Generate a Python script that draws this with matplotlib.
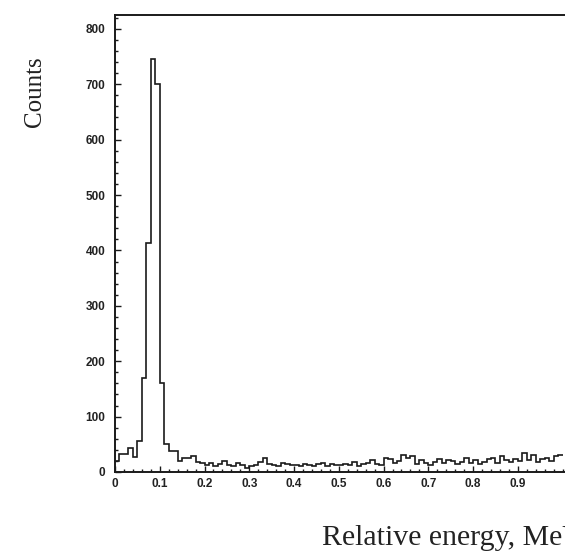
import numpy as np
import matplotlib
matplotlib.use("Agg")
import matplotlib.pyplot as plt
from matplotlib.ticker import MultipleLocator

# histogram contents, 100 bins of 0.01 MeV between 0 and 1
counts = [20, 33, 33, 44, 27, 56, 170, 413, 745, 700,
          160, 50, 38, 38, 20, 25, 25, 29, 18, 16,
          12, 16, 10, 14, 20, 12, 10, 17, 13, 8,
          10, 12, 18, 25, 14, 12, 10, 16, 14, 12,
          13, 10, 14, 12, 10, 14, 16, 10, 14, 12,
          12, 15, 13, 18, 10, 15, 17, 22, 14, 12,
          25, 24, 16, 20, 30, 26, 28, 14, 22, 16,
          12, 18, 24, 17, 22, 20, 14, 18, 26, 16,
          22, 14, 18, 24, 26, 16, 28, 22, 18, 24,
          20, 34, 22, 30, 18, 24, 26, 20, 28, 30]
bin_lo = 0.0
bin_hi = 1.0
x_ticks = [0, 0.1, 0.2, 0.3, 0.4, 0.5, 0.6, 0.7, 0.8, 0.9]
x_tick_labels = ["0", "0.1", "0.2", "0.3", "0.4", "0.5", "0.6", "0.7", "0.8", "0.9"]
y_ticks = [0, 100, 200, 300, 400, 500, 600, 700, 800]

edges = np.linspace(bin_lo, bin_hi, len(counts) + 1)

fig = plt.figure(figsize=(5.65, 5.55), dpi=100)
# the original scan is cut on the right, so the axes run past the figure edge
ax = fig.add_axes([115 / 565, 83 / 555, 470 / 565, 457 / 555])

ax.stairs(counts, edges, color="#1a1a1a", linewidth=1.2, baseline=None)

ax.set_xlim(0, 1.05)
ax.set_ylim(0, 825)

ax.set_xticks(x_ticks)
ax.set_xticklabels(x_tick_labels)
ax.set_yticks(y_ticks)
ax.xaxis.set_minor_locator(MultipleLocator(0.02))
ax.yaxis.set_minor_locator(MultipleLocator(20))

ax.tick_params(which="both", direction="in", top=False, right=False,
               color="#1a1a1a", width=1.0)
ax.tick_params(which="major", length=4)
ax.tick_params(which="minor", length=2.5)
ax.tick_params(axis="y", which="major", pad=7)
ax.tick_params(axis="x", which="major", pad=4)

for lab in ax.get_xticklabels() + ax.get_yticklabels():
    lab.set_fontfamily("Liberation Sans")
    lab.set_fontweight("bold")
    lab.set_fontsize(8.5)
    lab.set_color("#222222")

for side in ["left", "bottom", "top", "right"]:
    ax.spines[side].set_linewidth(1.4)
    ax.spines[side].set_color("#1a1a1a")

# axis titles placed like in the scan
fig.text(35 / 565, 1 - 92 / 555, "Counts", rotation=90, ha="center", va="center",
         fontfamily="Liberation Serif", fontsize=18, color="#222222")
fig.text(322 / 565, 1 - 538 / 555, "Relative energy, MeV", ha="left", va="center",
         fontfamily="Liberation Serif", fontsize=21.5, color="#222222")

fig.savefig("out.png", dpi=100, facecolor="white")
